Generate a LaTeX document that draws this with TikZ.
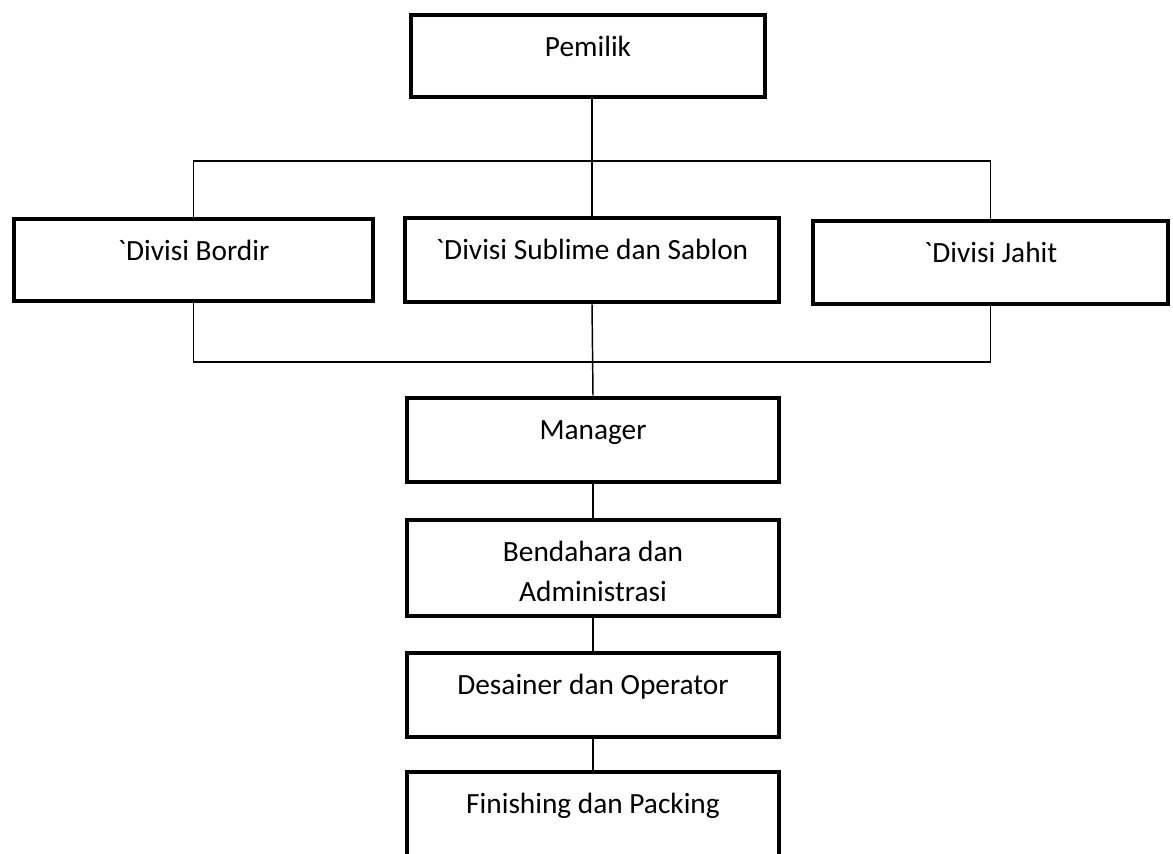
\documentclass[tikz,border=0pt]{standalone}
\usepackage{fontspec}
\setmainfont{Carlito}[Ligatures=TeXOff]
\begin{document}
\begin{tikzpicture}[x=0.75pt,y=-0.75pt,
  orgbox/.style={draw, line width=3.4pt, line join=miter, inner sep=0pt,
    text height=30.75pt, text depth=32.25pt, minimum width=279pt,
    font=\fontsize{22}{30}\selectfont},
  link/.style={line width=1.1pt}]

\useasboundingbox (0,0) rectangle (1173,853);
\clip (0,0) rectangle (1173,853);

% top
\node[orgbox, minimum width=265.5pt, text depth=30.75pt] (pemilik) at (588,56) {Pemilik};

% divisions
\node[orgbox, minimum width=269.25pt, text depth=30.75pt] (bordir) at (193.5,260) {`Divisi Bordir};
\node[orgbox, minimum width=280.5pt] (sublime) at (592,260) {`Divisi Sublime dan Sablon};
\node[orgbox, minimum width=266.25pt, text depth=31.5pt] (jahit) at (990.5,262.5) {`Divisi Jahit};

% staff
\node[orgbox] (manager) at (593,440) {Manager};
\node[orgbox, text depth=41.25pt] (bendahara) at (593,568)
  {\begin{tabular}[t]{@{}c@{}}Bendahara dan\\Administrasi\end{tabular}};
\node[orgbox] (desainer) at (593,695) {Desainer dan Operator};
\node[orgbox] (finishing) at (593,814) {Finishing dan Packing};

% bars
\coordinate (topbar) at (593,161);
\coordinate (lowbar) at (593,362);

% connectors
\draw[link] (sublime.north |- pemilik.south) -- (sublime.north);
\draw[link] (bordir.north) |- (topbar) -| (jahit.north);
\draw[link] (bordir.south) |- (lowbar) -| (jahit.south);
\draw[link] (sublime.south) -- (manager.north);
\draw[link] (manager) -- (bendahara);
\draw[link] (bendahara) -- (desainer);
\draw[link] (desainer) -- (finishing);

\end{tikzpicture}
\end{document}
